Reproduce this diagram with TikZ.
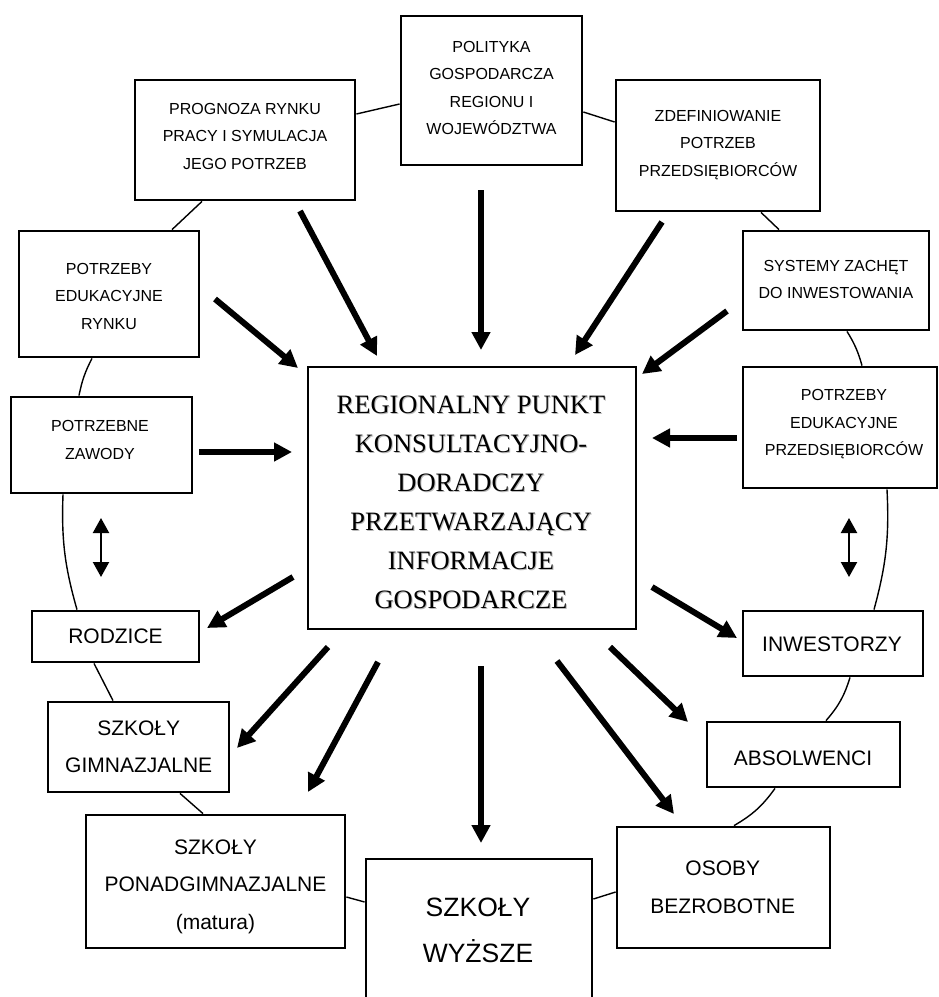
\documentclass[tikz,border=0pt]{standalone}
\usepackage{fontspec}
\setmainfont{Liberation Sans}
\newfontfamily\hubfont{Liberation Serif}
\usetikzlibrary{arrows.meta}

\tikzset{
  panel/.style={draw, rectangle, line width=2.8pt, inner sep=0pt},
  lblS/.style={align=center, inner sep=0pt, font=\fontsize{16}{27.5}\selectfont},
  lblM/.style={align=center, inner sep=0pt, font=\fontsize{21}{37.5}\selectfont},
  lblL/.style={align=center, inner sep=0pt, font=\fontsize{26.5}{46}\selectfont},
  hubtxt/.style={align=center, inner sep=0pt, font=\hubfont\fontsize{26.5}{39}\selectfont},
  ring/.style={line width=1.4pt},
  fat/.style={line width=6pt, -{Triangle[length=18pt,width=18pt]}},
  twin/.style={line width=2.2pt, {Triangle[length=15pt,width=16pt]}-{Triangle[length=15pt,width=16pt]}}
}

\begin{document}
\begin{tikzpicture}[x=1pt,y=1pt]
\useasboundingbox (0,0) rectangle (939,-997);
\fill[white] (0,0) rectangle (939,-997);
\clip (0,0) rectangle (939,-997);

% ---------- boxes ----------
\node[panel, minimum width=181, minimum height=149] (polit) at (491.5,-90.5) {};
\node[panel, minimum width=220, minimum height=120] (progn) at (245,-140) {};
\node[panel, minimum width=204, minimum height=131] (zdef) at (718,-145.5) {};
\node[panel, minimum width=186, minimum height=99] (syst) at (836,-280.5) {};
\node[panel, minimum width=180, minimum height=126] (edur) at (109,-294) {};
\node[panel, minimum width=181, minimum height=96] (zawody) at (101.5,-445) {};
\node[panel, minimum width=328, minimum height=262] (hub) at (472,-498) {};
\node[panel, minimum width=194, minimum height=121] (edup) at (840,-427.5) {};
\node[panel, minimum width=167, minimum height=51] (rodz) at (115.5,-636.5) {};
\node[panel, minimum width=180, minimum height=65] (inwest) at (833,-643.5) {};
\node[panel, minimum width=181, minimum height=90] (gimn) at (138.5,-747) {};
\node[panel, minimum width=259, minimum height=133] (ponad) at (215.5,-881.5) {};
\node[panel, minimum width=226, minimum height=151] (wyz) at (479,-934.5) {};
\node[panel, minimum width=193, minimum height=65] (absol) at (803.5,-754.5) {};
\node[panel, minimum width=213, minimum height=121] (osoby) at (723.5,-887.5) {};

% ---------- labels ----------
\node[lblS] (polit-t) at (491.5,-88) {POLITYKA\\GOSPODARCZA\\REGIONU I\\WOJEWÓDZTWA};
\node[lblS] (progn-t) at (245,-136) {PROGNOZA RYNKU\\PRACY I SYMULACJA\\JEGO POTRZEB};
\node[lblS] (zdef-t) at (718,-145) {ZDEFINIOWANIE\\POTRZEB\\PRZEDSIĘBIORCÓW};
\node[lblS] (syst-t) at (836,-279.5) {SYSTEMY ZACHĘT\\DO INWESTOWANIA};
\node[lblS] (edur-t) at (109,-296) {POTRZEBY\\EDUKACYJNE\\RYNKU};
\node[lblS] (zawody-t) at (100,-440) {POTRZEBNE\\ZAWODY};
\node[lblS] (edup-t) at (844,-424.5) {POTRZEBY\\EDUKACYJNE\\PRZEDSIĘBIORCÓW};
\node[lblM] (rodz-t) at (115.5,-636) {RODZICE};
\node[lblM] (inwest-t) at (832,-644) {INWESTORZY};
\node[lblM] (gimn-t) at (138.7,-747) {SZKOŁY\\GIMNAZJALNE};
\node[lblM] (ponad-t) at (215.5,-886.5) {SZKOŁY\\PONADGIMNAZJALNE\\(matura)};
\node[lblL] (wyz-t) at (478,-930) {SZKOŁY\\WYŻSZE};
\node[lblM] (absol-t) at (803,-758) {ABSOLWENCI};
\node[lblM] (osoby-t) at (722.8,-887.5) {OSOBY\\BEZROBOTNE};

% central text with its faint drop shadow
\node[hubtxt, text=black!28] (hub-shade) at (472,-503) {REGIONALNY PUNKT\\KONSULTACYJNO-\\DORADCZY\\PRZETWARZAJĄCY\\INFORMACJE\\GOSPODARCZE};
\node[hubtxt] (hub-t) at (471,-502) {REGIONALNY PUNKT\\KONSULTACYJNO-\\DORADCZY\\PRZETWARZAJĄCY\\INFORMACJE\\GOSPODARCZE};

% ---------- ring of thin links between neighbouring boxes ----------
\draw[ring] ([yshift=26pt]progn.east) -- ([yshift=-13.5pt]polit.west);
\draw[ring] ([yshift=-21.5pt]polit.east) -- ([yshift=23.5pt]zdef.west);
\draw[ring] ([xshift=-43pt]progn.south) -- ([xshift=63pt]edur.north);
\draw[ring] ([xshift=43pt]zdef.south) -- ([xshift=-57pt]syst.north);
\draw[ring] ([xshift=-17pt]edur.south) to[bend right=8] ([xshift=-22.5pt]zawody.north);
\draw[ring] ([xshift=11pt]syst.south) to[bend left=8] ([xshift=22pt]edup.north);
\draw[ring] ([xshift=-38.5pt]zawody.south) to[bend right=9] ([xshift=-38.5pt]rodz.north);
\draw[ring] ([xshift=47pt]edup.south) to[bend left=9] ([xshift=41pt]inwest.north);
\draw[ring] ([xshift=-21.5pt]rodz.south) -- ([xshift=-25.5pt]gimn.north);
\draw[ring] ([xshift=17pt]inwest.south) to[bend left=12] ([xshift=22.5pt]absol.north);
\draw[ring] ([xshift=41.5pt]gimn.south) -- ([xshift=-12.5pt]ponad.north);
\draw[ring] ([xshift=-28.5pt]absol.south) to[bend left=12] ([xshift=10.5pt]osoby.north);
\draw[ring] ([yshift=-15.5pt]ponad.east) -- ([yshift=32.5pt]wyz.west);
\draw[ring] ([yshift=35.5pt]wyz.east) -- ([yshift=-4.5pt]osoby.west);

% ---------- ends of the thick arrows ----------
\coordinate (a1s) at (481,-190);  \coordinate (a1e) at (481,-350);
\coordinate (a2s) at (300,-211);  \coordinate (a2e) at (377,-356);
\coordinate (a3s) at (662,-222);  \coordinate (a3e) at (575,-355);
\coordinate (a4s) at (215,-299);  \coordinate (a4e) at (298,-368);
\coordinate (a5s) at (727,-311);  \coordinate (a5e) at (642,-374);
\coordinate (a6s) at (199,-452);  \coordinate (a6e) at (292,-452);
\coordinate (a7s) at (737,-438);  \coordinate (a7e) at (652,-438);
\coordinate (a8s) at (293,-577);  \coordinate (a8e) at (207,-628);
\coordinate (a9s) at (652,-587);  \coordinate (a9e) at (737,-638);
\coordinate (a10s) at (328,-647); \coordinate (a10e) at (237,-748);
\coordinate (a11s) at (378,-662); \coordinate (a11e) at (308,-792);
\coordinate (a12s) at (481,-666); \coordinate (a12e) at (481,-843);
\coordinate (a13s) at (557,-661); \coordinate (a13e) at (674,-814);
\coordinate (a14s) at (610,-647); \coordinate (a14e) at (688,-722);
\coordinate (d1s) at (101,-518);  \coordinate (d1e) at (101,-577);
\coordinate (d2s) at (849,-518);  \coordinate (d2e) at (849,-577);

% inflows into the centre
\draw[fat] (a1s) -- (a1e);
\draw[fat] (a2s) -- (a2e);
\draw[fat] (a3s) -- (a3e);
\draw[fat] (a4s) -- (a4e);
\draw[fat] (a5s) -- (a5e);
\draw[fat] (a6s) -- (a6e);
\draw[fat] (a7s) -- (a7e);
% outflows from the centre
\draw[fat] (a8s) -- (a8e);
\draw[fat] (a9s) -- (a9e);
\draw[fat] (a10s) -- (a10e);
\draw[fat] (a11s) -- (a11e);
\draw[fat] (a12s) -- (a12e);
\draw[fat] (a13s) -- (a13e);
\draw[fat] (a14s) -- (a14e);
% two-way links
\draw[twin] (d1s) -- (d1e);
\draw[twin] (d2s) -- (d2e);
\end{tikzpicture}
\end{document}
